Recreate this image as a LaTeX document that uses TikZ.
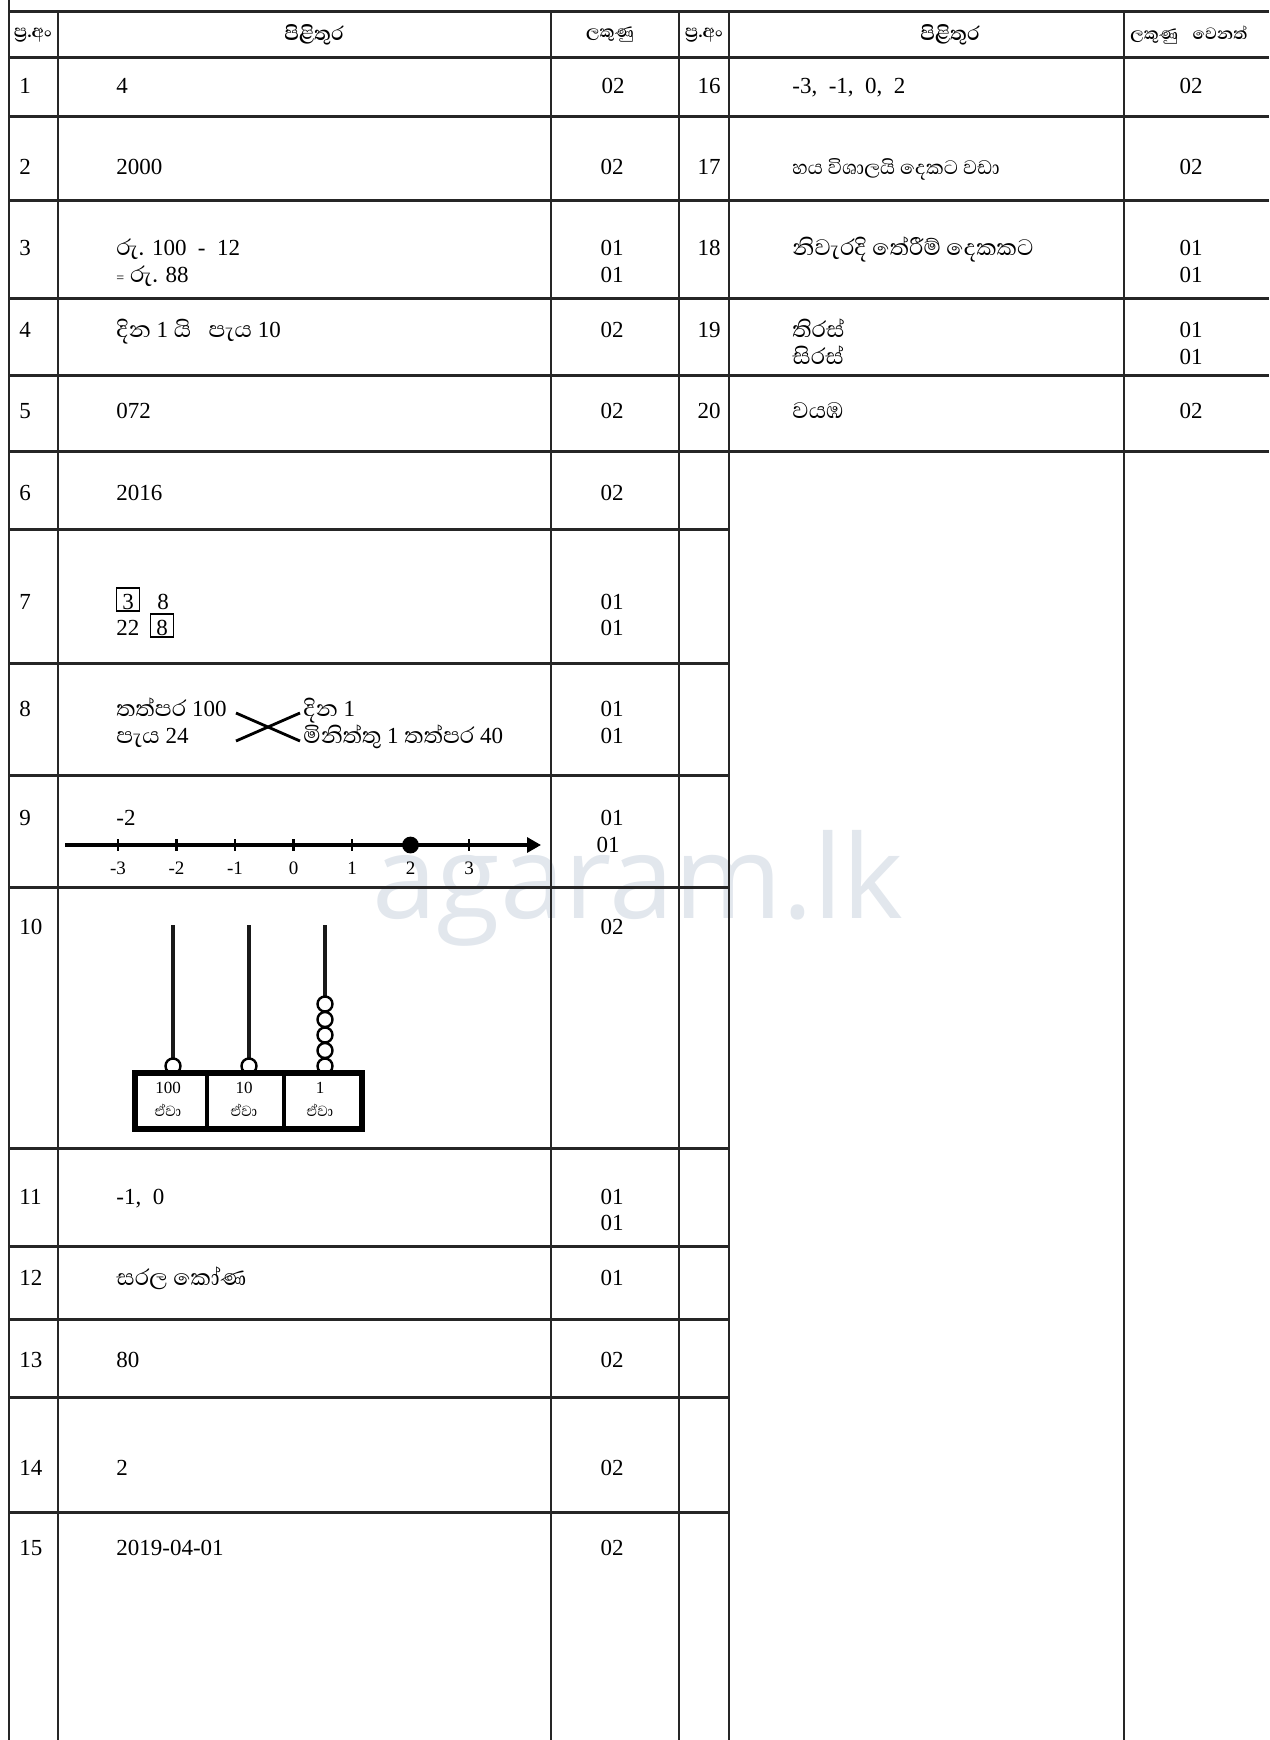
\documentclass[tikz,border=0pt]{standalone}
\usepackage{fontspec}
\setmainfont{Liberation Serif}
\newfontfamily\sinhf[Script=Sinhala,Scale=1.25]{Abhaya Libre}
\newfontfamily\wmfont{Open Sans}
\newcommand\sw[1]{{\sinhf #1}}
\usetikzlibrary{arrows.meta,calc}
\definecolor{wm}{RGB}{226,231,237}
\begin{document}
\begin{tikzpicture}[x=0.5pt,y=-0.5pt,
  hl/.style={line width=1.5pt, black!85},
  vl/.style={line width=1pt, black!85},
  t/.style={anchor=base west, inner sep=0pt, font=\fontsize{11.5}{13}\selectfont},
  s/.style={anchor=base west, inner sep=0pt, font=\fontsize{11.5}{13}\selectfont},
  mk/.style={anchor=base, inner sep=0pt, font=\fontsize{11.5}{13}\selectfont},
  qn/.style={anchor=base east, inner sep=0pt, font=\fontsize{11.5}{13}\selectfont},
  hd/.style={anchor=center, inner sep=0pt, font=\fontsize{8.4}{10}\selectfont\sinhf\bfseries},
  hdw/.style={anchor=center, inner sep=0pt, font=\fontsize{10}{12}\selectfont\sinhf\bfseries},
  nl/.style={anchor=base, inner sep=0pt, font=\fontsize{9.5}{10}\selectfont},
  ab/.style={anchor=center, inner sep=0pt, font=\fontsize{8.5}{9}\selectfont},
  abs/.style={anchor=center, inner sep=0pt, font=\fontsize{7.5}{9}\selectfont\sinhf},
  bx/.style={draw, line width=0.6pt, anchor=base west, inner xsep=2.9pt, inner ysep=1pt, text height=9.5pt, text depth=0pt, font=\fontsize{11.5}{13}\selectfont},
  bead/.style={draw, fill=white, line width=1.2pt, circle, inner sep=0pt, minimum size=7.5pt},
  rod/.style={line width=2.2pt, black!90}
]
\useasboundingbox (0,0) rectangle (1269,1740);
\clip (0,0) rectangle (1269,1740);
% watermark
\node[anchor=base west, inner sep=0pt, text=wm, font=\fontsize{58}{60}\selectfont\wmfont] (wmark) at (372,918) {agaram.lk};
% grid
\draw[vl] (9,0) -- (9,1740);
\foreach \x in {58,551,679,729,1124} \draw[vl] (\x,11) -- (\x,1740);
\foreach \y in {11,57,116,200,298,375,451} \draw[hl] (9,\y) -- (1269,\y);
\foreach \y in {529,663,775,887,1148,1246,1319,1397,1512} \draw[hl] (9,\y) -- (729,\y);
% header
\node[hd, font=\fontsize{9.1}{10}\selectfont\sinhf\bfseries] (h1) at (33,35) {ප්^^^^200dර.අං};
\node[hdw] (h2) at (314,35) {පිළිතුර};
\node[hd] (h3) at (610,35) {ලකුණු};
\node[hd, font=\fontsize{9.1}{10}\selectfont\sinhf\bfseries] (h4) at (704,35) {ප්^^^^200dර.අං};
\node[hdw] (h5) at (950,35) {පිළිතුර};
\node[hd, anchor=west] (h6) at (1130,35) {ලකුණු\hspace{0.7em}වෙනත්};
% question numbers left
\node[t] (n1) at (19,93) {1};
\node[t] (n2) at (19,174) {2};
\node[t] (n3) at (19,255) {3};
\node[t] (n4) at (19,337) {4};
\node[t] (n5) at (19,418) {5};
\node[t] (n6) at (19,500) {6};
\node[t] (n7) at (19,609) {7};
\node[t] (n8) at (19,716) {8};
\node[t] (n9) at (19,825) {9};
\node[t] (n10) at (19,934) {10};
\node[t] (n11) at (19,1204) {11};
\node[t] (n12) at (19,1285) {12};
\node[t] (n13) at (19,1367) {13};
\node[t] (n14) at (19,1475) {14};
\node[t] (n15) at (19,1555) {15};
% answers left
\node[t] (a1) at (116,93) {4};
\node[t] (a2) at (116,174) {2000};
\node[s] (a3a) at (116,255) {\sw{රු.} 100\ \ -\ \ 12};
\node[s] (a3b) at (116,282) {{\fontsize{7}{8}\selectfont =} \sw{රු.} 88};
\node[s] (a4) at (116,337) {\sw{දින} 1 \sw{යි}\ \ \ \sw{පැය} 10};
\node[t] (a5) at (116,418) {072};
\node[t] (a6) at (116,500) {2016};
\node[bx] (a7b1) at (116,609) {3};
\node[t] (a7a) at (157,609) {8};
\node[t] (a7c) at (116,635) {22};
\node[bx] (a7b2) at (150,635) {8};
\node[s] (a8a) at (116,716) {\sw{තත්පර} 100};
\node[s] (a8b) at (116,743) {\sw{පැය} 24};
\node[s] (a8c) at (303,716) {\sw{දින} 1};
\node[s] (a8d) at (303,743) {\sw{මිනිත්තු} 1 \sw{තත්පර} 40};
\coordinate (c1) at (236,713);
\coordinate (c2) at (300,741);
\coordinate (c3) at (236,741);
\coordinate (c4) at (300,713);
\draw[line width=1.4pt] (c1) -- (c2);
\draw[line width=1.4pt] (c3) -- (c4);
\node[t] (a9) at (116,825) {-2};
% number line
\coordinate (nlS) at (65,845);
\coordinate (nlE) at (541,845);
\draw[line width=1.6pt, -{Triangle[length=7pt,width=7.5pt]}] (nlS) -- (nlE);
\foreach \v [count=\i from 0] in {-3,-2,-1,0,1,2,3} {
  \coordinate (tk\i) at ({118+58.5*\i},845);
  \draw[line width=1.2pt] ($(tk\i)+(0,-6)$) -- ($(tk\i)+(0,6)$);
  \node[nl] (tl\i) at ({118+58.5*\i},874) {\v};
}
\fill (tk5) circle[radius=4.2pt];
% abacus
\foreach \r/\xx in {r1/173,r2/249,r3/325} {
  \coordinate (\r t) at (\xx,925);
  \coordinate (\r b) at (\xx,1073);
  \draw[rod] (\r t) -- (\r b);
}
\node[bead] (bh) at (173,1066) {};
\node[bead] (bt) at (249,1066) {};
\foreach \k in {0,...,4} \node[bead] (bo\k) at (325,{1066-15.5*\k}) {};
\node[draw, line width=2.6pt, minimum width=113.5pt, minimum height=28pt, inner sep=0pt] (box) at (248.5,1101) {};
\coordinate (d1t) at (207,1073); \coordinate (d1b) at (207,1129);
\coordinate (d2t) at (284,1073); \coordinate (d2b) at (284,1129);
\draw[line width=2pt] (d1t) -- (d1b);
\draw[line width=2pt] (d2t) -- (d2b);
\node[ab] (l1) at (168,1088) {100};
\node[abs] (l1s) at (168,1110) {ඒවා};
\node[ab] (l2) at (244,1088) {10};
\node[abs] (l2s) at (244,1110) {ඒවා};
\node[ab] (l3) at (320,1088) {1};
\node[abs] (l3s) at (320,1110) {ඒවා};
\node[t] (a11) at (116,1204) {-1,\ \ 0};
\node[s] (a12) at (116,1285) {\sw{සරල කෝණ}};
\node[t] (a13) at (116,1367) {80};
\node[t] (a14) at (116,1475) {2};
\node[t] (a15) at (116,1555) {2019-04-01};
% marks left
\node[mk] (m1) at (613,93) {02};
\node[mk] (m2) at (612,174) {02};
\node[mk] (m3a) at (612,255) {01};
\node[mk] (m3b) at (612,282) {01};
\node[mk] (m4) at (612,337) {02};
\node[mk] (m5) at (612,418) {02};
\node[mk] (m6) at (612,500) {02};
\node[mk] (m7a) at (612,609) {01};
\node[mk] (m7b) at (612,635) {01};
\node[mk] (m8a) at (612,716) {01};
\node[mk] (m8b) at (612,743) {01};
\node[mk] (m9a) at (612,825) {01};
\node[mk] (m9b) at (608,852) {01};
\node[mk] (m10) at (612,934) {02};
\node[mk] (m11a) at (612,1204) {01};
\node[mk] (m11b) at (612,1230) {01};
\node[mk] (m12) at (612,1285) {01};
\node[mk] (m13) at (612,1367) {02};
\node[mk] (m14) at (612,1475) {02};
\node[mk] (m15) at (612,1555) {02};
% right table
\node[qn] (n16) at (721,93) {16};
\node[qn] (n17) at (721,174) {17};
\node[qn] (n18) at (721,255) {18};
\node[qn] (n19) at (721,337) {19};
\node[qn] (n20) at (721,418) {20};
\node[t] (a16) at (792,93) {-3,\ \ -1,\ \ 0,\ \ 2};
\node[s, font=\fontsize{10}{12}\selectfont] (a17) at (792,174) {\sw{හය විශාලයි දෙකට වඩා}};
\node[s] (a18) at (792,255) {\sw{නිවැරදි තේරීම් දෙකකට}};
\node[s] (a19a) at (792,337) {\sw{තිරස්}};
\node[s] (a19b) at (792,364) {\sw{සිරස්}};
\node[s] (a20) at (792,418) {\sw{වයඹ}};
\node[mk] (m16) at (1191,93) {02};
\node[mk] (m17) at (1191,174) {02};
\node[mk] (m18a) at (1191,255) {01};
\node[mk] (m18b) at (1191,282) {01};
\node[mk] (m19a) at (1191,337) {01};
\node[mk] (m19b) at (1191,364) {01};
\node[mk] (m20) at (1191,418) {02};
\end{tikzpicture}
\end{document}
